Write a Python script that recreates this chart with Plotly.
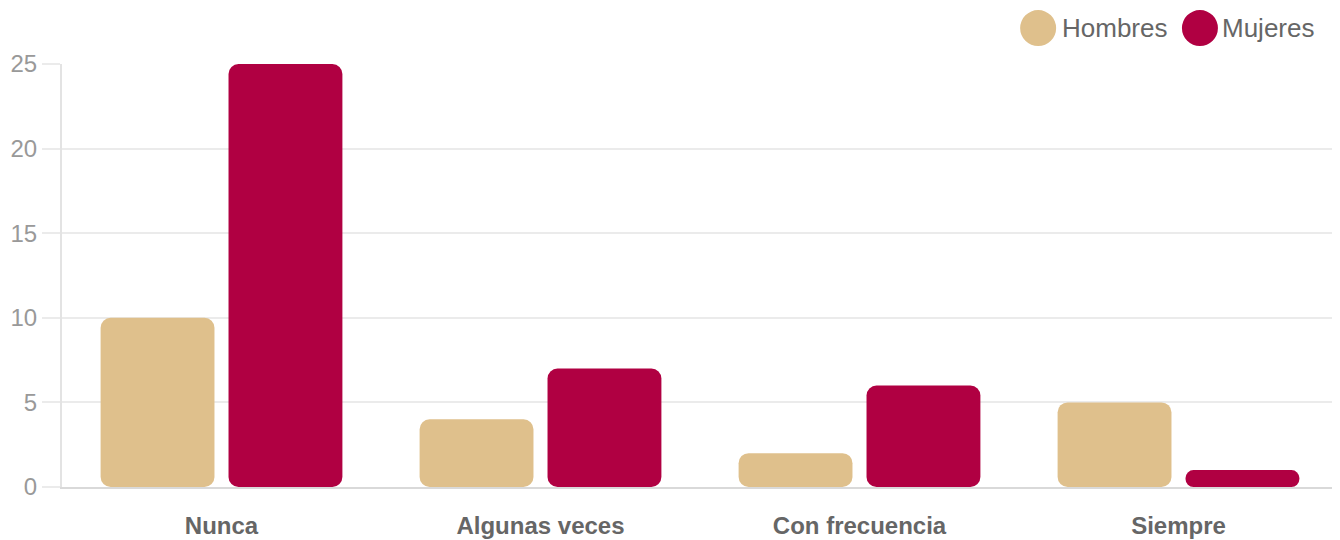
import plotly.graph_objects as go

categories = ["Nunca", "Algunas veces", "Con frecuencia", "Siempre"]
hombres = [10, 4, 2, 5]
mujeres = [25, 7, 6, 1]
series_names = ["Hombres", "Mujeres"]
series_colors = ["#dfc08c", "#b00042"]

FONT = "Liberation Sans, Arial, Helvetica, sans-serif"
BAR_W = 0.357
offsets = [-0.379, 0.022]

fig = go.Figure()
for vals, name, color, off in zip([hombres, mujeres], series_names, series_colors, offsets):
    fig.add_trace(go.Bar(x=categories, y=vals, base=[0] * len(vals), name=name,
                         marker=dict(color=color, line=dict(width=0), cornerradius=10),
                         width=BAR_W, offset=off, showlegend=False, hoverinfo="skip"))

# custom legend with large circles
legend_pos = [(0.765, 0.7836), (0.8918, 0.909)]
shapes = []
annotations = []
for (cx, tx), name, color in zip(legend_pos, series_names, series_colors):
    shapes.append(dict(type="circle", xref="paper", yref="paper", xsizemode="pixel", ysizemode="pixel",
                       xanchor=cx, yanchor=1.085, x0=-18, x1=18, y0=-18, y1=18,
                       fillcolor=color, line=dict(width=0)))
    annotations.append(dict(x=tx, y=1.085, xref="paper", yref="paper", text=name, showarrow=False,
                            xanchor="left", yanchor="middle", xshift=-2,
                            font=dict(family=FONT, size=26, color="#666666")))

fig.update_layout(
    barmode="overlay",
    width=1332, height=532,
    margin=dict(l=54, r=2, t=56, b=53),
    paper_bgcolor="white", plot_bgcolor="white",
    shapes=shapes, annotations=annotations,
    showlegend=False,
    xaxis=dict(type="category", showgrid=False, showline=True, linecolor="#d9d9d9", linewidth=2,
               ticks="", ticklabelstandoff=16, automargin=False,
               tickfont=dict(family=FONT, size=24, color="#666666", weight="bold")),
    yaxis=dict(range=[0, 25], dtick=5, showgrid=True, gridcolor="#ebebeb", gridwidth=1.5,
               showline=True, linecolor="#e3e3e3", linewidth=2, zeroline=False, automargin=False,
               ticks="outside", ticklen=18, tickcolor="#ebebeb", tickwidth=1.5,
               tickfont=dict(family=FONT, size=24, color="#999999")),
)

fig.write_html("out.html")
